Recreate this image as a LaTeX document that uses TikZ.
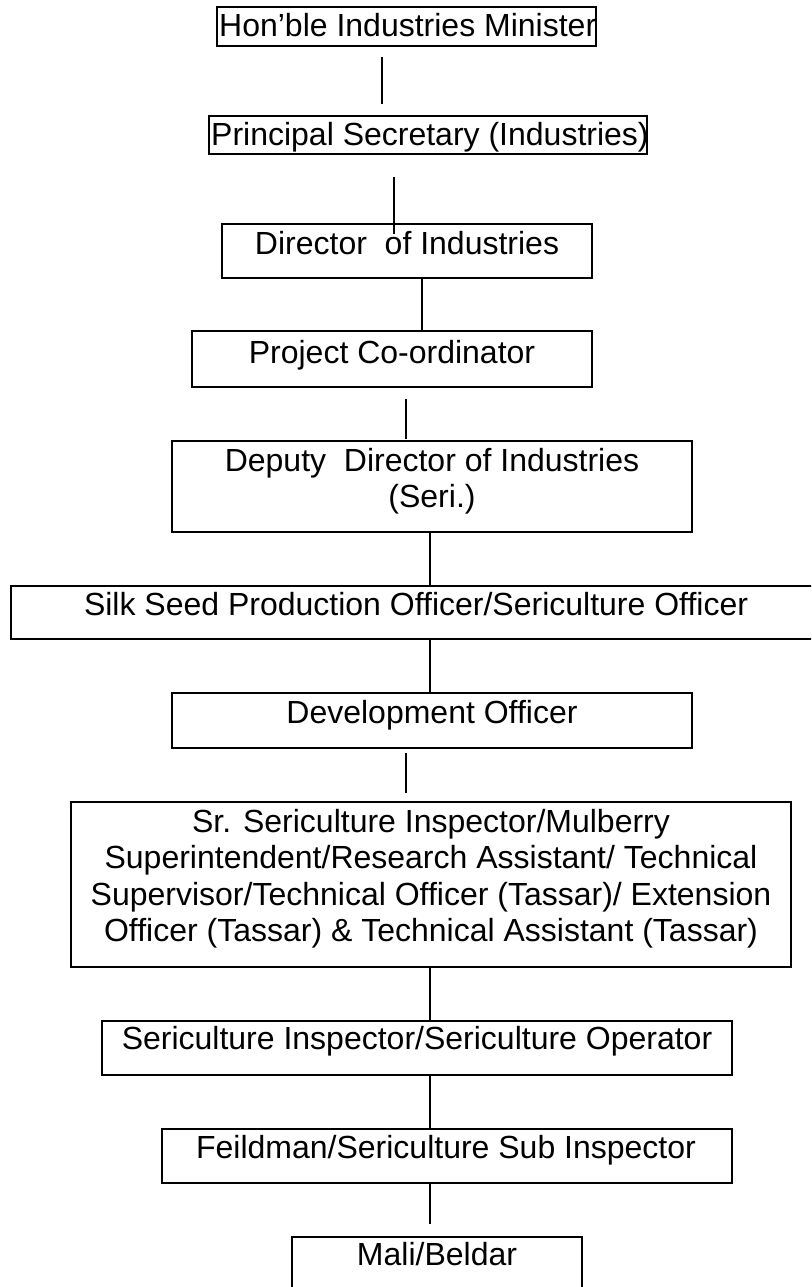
\documentclass[tikz,border=0pt]{standalone}
\usepackage{fontspec}
\setmainfont{Liberation Sans}
\begin{document}
\begin{tikzpicture}[x=1pt,y=-1pt,
  box/.style={draw=black,line width=1.6pt,inner sep=0pt,fill=none},
  txt/.style={inner sep=0pt,font=\fontsize{32}{36.5}\selectfont,align=center},
  link/.style={draw=black,line width=1.3pt}]
\useasboundingbox (0,0) rectangle (811,1287);
\clip (0,0) rectangle (811,1287);
\fill[white] (0,0) rectangle (811,1287);
% boxes
\node[box,minimum width=379pt,minimum height=39pt] (b1) at (406.5,26.5) {};
\node[box,minimum width=438pt,minimum height=38pt] (b2) at (428,135) {};
\node[box,minimum width=370pt,minimum height=54pt] (b3) at (407,251) {};
\node[box,minimum width=400pt,minimum height=56pt] (b4) at (392,359) {};
\node[box,minimum width=520pt,minimum height=91pt] (b5) at (432,486.5) {};
\node[box,minimum width=829pt,minimum height=53pt] (b6) at (425.5,612.5) {};
\node[box,minimum width=520pt,minimum height=55pt] (b7) at (432,720.5) {};
\node[box,minimum width=720pt,minimum height=165pt] (b8) at (431,884.5) {};
\node[box,minimum width=630pt,minimum height=54pt] (b9) at (417,1048) {};
\node[box,minimum width=570pt,minimum height=54pt] (b10) at (447,1156) {};
\node[box,minimum width=290pt,minimum height=63pt] (b11) at (437,1268.5) {};
% texts
\node[txt,anchor=base west] (t1) at (219,37) {Hon’ble Industries Minister};
\node[txt,anchor=base west] (t2) at (211,146) {Principal Secretary (Industries)};
\node[txt,anchor=base] (t3) at (407,254) {Director\ \ of Industries};
\node[txt,anchor=base] (t4) at (392,363) {Project Co-ordinator};
\node[txt,anchor=north] (t5) at (432,448) {Deputy\ \ Director of Industries\\(Seri.)};
\node[txt,anchor=base] (t6) at (416,615) {Silk Seed Production Officer/Sericulture Officer};
\node[txt,anchor=base] (t7) at (432,723) {Development Officer};
\node[txt,anchor=north] (t8) at (431,809) {Sr. Sericulture Inspector/Mulberry\\Superintendent/Research Assistant/ Technical\\Supervisor/Technical Officer (Tassar)/ Extension\\Officer (Tassar) \& Technical Assistant (Tassar)};
\node[txt,anchor=base] (t9) at (417,1049) {Sericulture Inspector/Sericulture Operator};
\node[txt,anchor=base] (t10) at (446,1158) {Feildman/Sericulture Sub Inspector};
\node[txt,anchor=base] (t11) at (437,1265) {Mali/Beldar};
% connectors
\draw[link] ([xshift=-24.5pt,yshift=-10pt]b1.south) -- ([xshift=-46pt,yshift=11pt]b2.north);
\draw[link] ([xshift=-34pt,yshift=-22pt]b2.south) -- ([xshift=-13pt,yshift=-11pt]b3.north);
\draw[link] ([xshift=15pt]b3.south) -- ([xshift=30pt]b4.north);
\draw[link] ([xshift=14pt,yshift=-11pt]b4.south) -- ([xshift=-26pt,yshift=1pt]b5.north);
\draw[link] ([xshift=-2pt]b5.south) -- ([xshift=4.5pt]b6.north);
\draw[link] ([xshift=4.5pt]b6.south) -- ([xshift=-2pt]b7.north);
\draw[link] ([xshift=-26pt,yshift=-4pt]b7.south) -- ([xshift=-25pt,yshift=8pt]b8.north);
\draw[link] ([xshift=-1pt]b8.south) -- ([xshift=13pt]b9.north);
\draw[link] ([xshift=13pt]b9.south) -- ([xshift=-17pt]b10.north);
\draw[link] ([xshift=-17pt]b10.south) -- ([xshift=-7pt,yshift=12pt]b11.north);
\end{tikzpicture}
\end{document}
